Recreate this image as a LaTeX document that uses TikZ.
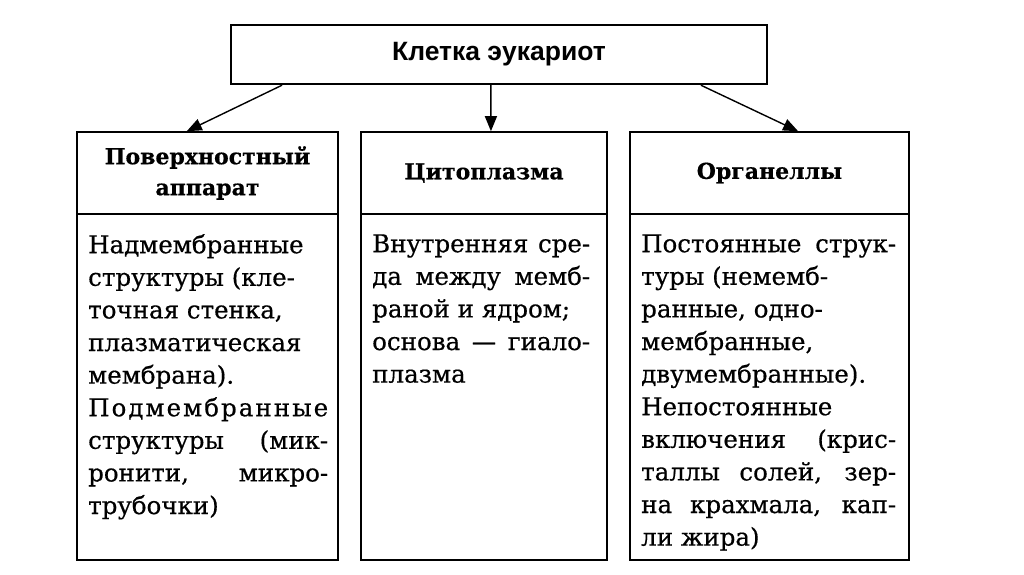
\documentclass[tikz,border=0pt]{standalone}
\usepackage{fontspec}
\setmainfont{DejaVu Serif}[FakeBold=0.5]
\newfontfamily\topfont{Liberation Sans}
\usetikzlibrary{arrows.meta,calc}
\newlength\colw
\newcommand\LR[1]{\hbox to\colw{\rule{0pt}{18pt}#1\hfil}}
\newcommand\LJ[1]{\hbox to\colw{\rule{0pt}{18pt}#1}}
\begin{document}
\begin{tikzpicture}[x=1pt,y=-1pt,
  box/.style={draw, line width=1.6pt, inner sep=0pt, anchor=center},
  topbox/.style={box, line width=2.4pt, font=\topfont\bfseries\fontsize{26.5}{30}\selectfont},
  hdr/.style={box, font=\bfseries\fontsize{22}{31}\selectfont, align=center},
  bodytext/.style={anchor=north west, inner sep=0pt, align=left},
  arr/.style={line width=1.4pt, -{Triangle[length=15pt,width=12pt]}}
]
\useasboundingbox[fill=white] (0,0) rectangle (1024,574);

\node[topbox, minimum width=536pt, minimum height=59pt] (top) at (499,54.5) {Клетка эукариот};

\node[hdr, minimum width=261pt, minimum height=82pt] (h1) at (207.5,173) {Поверхностный\\аппарат};
\node[box, minimum width=261pt, minimum height=346pt] (b1) at (207.5,387) {};
\node[hdr, minimum width=246pt, minimum height=82pt] (h2) at (484,173) {Цитоплазма};
\node[box, minimum width=246pt, minimum height=346pt] (b2) at (484,387) {};
\node[hdr, minimum width=279pt, minimum height=82pt] (h3) at (769.5,173) {Органеллы};
\node[box, minimum width=279pt, minimum height=346pt] (b3) at (769.5,387) {};

\node[bodytext, font=\fontsize{24.5}{32.6}\selectfont\setlength\colw{240pt}] (t1) at (88,234) {%
\LR{Надмембранные}\\
\LR{структуры (кле-}\\
\LR{точная стенка,}\\
\LR{плазматическая}\\
\LR{мембрана).}\\
\LJ{П\hfill о\hfill д\hfill м\hfill е\hfill м\hfill б\hfill р\hfill а\hfill н\hfill н\hfill ы\hfill е}\\
\LJ{структуры (мик-}\\
\LJ{ронити, микро-}\\
\LR{трубочки)}};

\node[bodytext, font=\fontsize{24.5}{32.6}\selectfont\setlength\colw{218pt}] (t2) at (372,234) {%
\LJ{Внутренняя сре-}\\
\LJ{да между мемб-}\\
\LR{раной и ядром;}\\
\LJ{основа — гиало-}\\
\LR{плазма}};

\node[bodytext, font=\fontsize{24.5}{32.6}\selectfont\setlength\colw{255pt}] (t3) at (641,234) {%
\LJ{Постоянные струк-}\\
\LR{туры (немемб-}\\
\LR{ранные, одно-}\\
\LR{мембранные,}\\
\LR{двумембранные).}\\
\LR{Непостоянные}\\
\LJ{включения (крис-}\\
\LJ{таллы солей, зер-}\\
\LJ{на крахмала, кап-}\\
\LR{ли жира)}};

\draw[arr] ($(top.south west)!0.097!(top.south east)$) -- ($(h1.north west)!0.421!(h1.north east)$);
\draw[arr] ($(top.south west)!0.485!(top.south east)$) -- ($(h2.north west)!0.528!(h2.north east)$);
\draw[arr] ($(top.south west)!0.875!(top.south east)$) -- ($(h3.north west)!0.602!(h3.north east)$);
\end{tikzpicture}
\end{document}
